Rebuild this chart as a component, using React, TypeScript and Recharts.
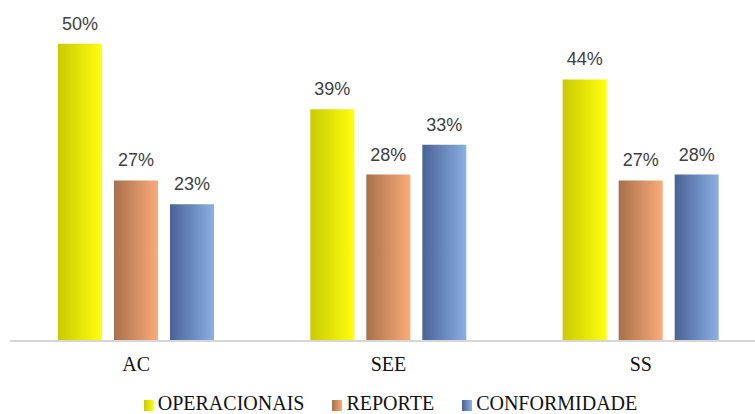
import { BarChart, Bar, XAxis, YAxis, Legend, LabelList } from "recharts"

const categories = ["AC", "SEE", "SS"]
const operacionais = [50, 39, 44]
const reporte = [27, 28, 27]
const conformidade = [23, 33, 28]

const seriesNames = ["OPERACIONAIS", "REPORTE", "CONFORMIDADE"]

const data = categories.map((name, i) => ({
  name,
  operacionais: operacionais[i],
  reporte: reporte[i],
  conformidade: conformidade[i],
}))

const gradients = [
  { id: "gYellow", from: "#c9c900", to: "#ffff10" },
  { id: "gOrange", from: "#a8704a", to: "#fbab7a" },
  { id: "gBlue", from: "#4a6296", to: "#8cafe2" },
]

function LegendContent() {
  return (
    <div
      style={{
        display: "flex",
        justifyContent: "center",
        alignItems: "center",
        paddingTop: 6,
        paddingLeft: 4,
        fontFamily: "'Liberation Serif', serif",
        fontSize: 20,
        color: "#111",
      }}
    >
      {seriesNames.map((n, i) => (
        <div key={n} style={{ display: "flex", alignItems: "center", marginRight: i < 2 ? 28 : 0 }}>
          <span
            style={{
              display: "inline-block",
              width: 10,
              height: 11,
              marginRight: 4,
              marginTop: 4,
              background: `linear-gradient(to right, ${gradients[i].from}, ${gradients[i].to})`,
            }}
          />
          <span>{n}</span>
        </div>
      ))}
    </div>
  )
}

export default function App() {
  const labelStyle = { fill: "#404040", fontSize: 18, fontFamily: "'Liberation Sans', Arial, sans-serif" }
  return (
    <div style={{ position: "fixed", left: 0, top: 0, width: 755, height: 414, overflow: "hidden", background: "#fff" }}>
      <BarChart
        width={780}
        height={414}
        data={data}
        margin={{ top: 14, right: 13, left: 10, bottom: 0 }}
        barSize={44}
        barGap={12}
      >
        <defs>
          {gradients.map((g) => (
            <linearGradient key={g.id} id={g.id} x1="0" y1="0" x2="1" y2="0">
              <stop offset="0%" stopColor={g.from} />
              <stop offset="100%" stopColor={g.to} />
            </linearGradient>
          ))}
        </defs>
        <XAxis
          dataKey="name"
          height={45}
          axisLine={{ stroke: "#d6d6d6", strokeWidth: 2 }}
          tickLine={false}
          tickSize={0}
          tickMargin={16}
          tick={{ fill: "#111", fontSize: 20, fontFamily: "'Liberation Serif', serif" }}
        />
        <YAxis hide domain={[0, 55]} />
        <Legend verticalAlign="bottom" height={28} content={<LegendContent />} />
        <Bar dataKey="operacionais" name="OPERACIONAIS" fill="url(#gYellow)" isAnimationActive={false}>
          <LabelList dataKey="operacionais" position="top" offset={14} formatter={(v: any) => `${v}%`} style={labelStyle} />
        </Bar>
        <Bar dataKey="reporte" name="REPORTE" fill="url(#gOrange)" isAnimationActive={false}>
          <LabelList dataKey="reporte" position="top" offset={14} formatter={(v: any) => `${v}%`} style={labelStyle} />
        </Bar>
        <Bar dataKey="conformidade" name="CONFORMIDADE" fill="url(#gBlue)" isAnimationActive={false}>
          <LabelList dataKey="conformidade" position="top" offset={14} formatter={(v: any) => `${v}%`} style={labelStyle} />
        </Bar>
      </BarChart>
    </div>
  )
}
